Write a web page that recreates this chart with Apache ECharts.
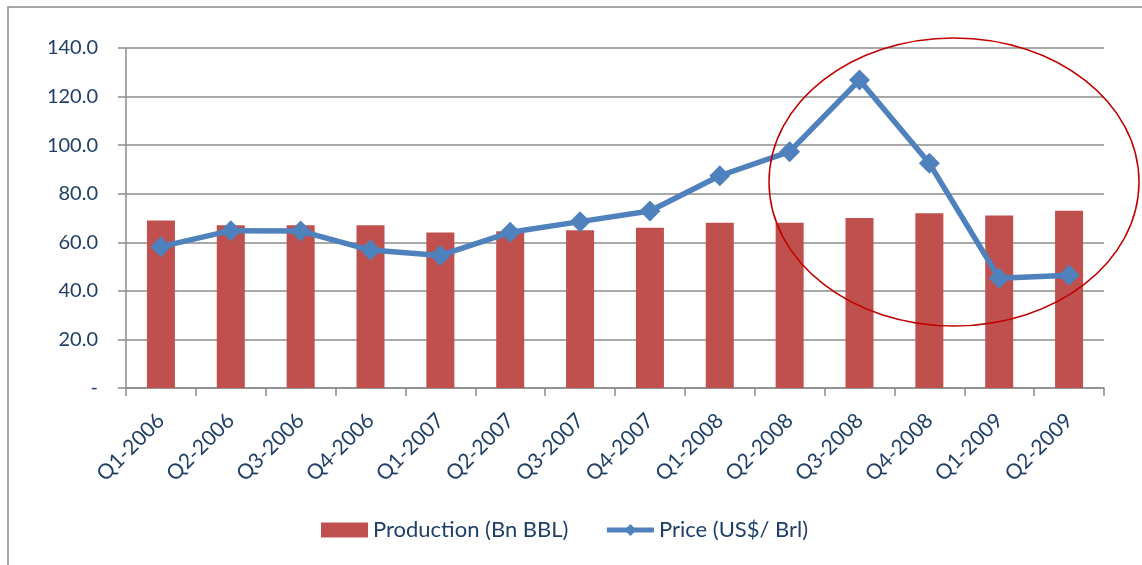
<!DOCTYPE html>
<html><head><meta charset="utf-8">
<script src="https://cdn.jsdelivr.net/npm/echarts@6/dist/echarts.min.js"></script>
<style>html,body{margin:0;padding:0;background:#fff}#c{width:1142px;height:565px}</style>
</head><body><div id="c"></div>
<script>
const categories = ['Q1-2006','Q2-2006','Q3-2006','Q4-2006','Q1-2007','Q2-2007','Q3-2007','Q4-2007','Q1-2008','Q2-2008','Q3-2008','Q4-2008','Q1-2009','Q2-2009'];
const production = [69, 67, 67, 67, 64, 64.5, 65, 66, 68, 68, 70, 72, 71, 73];
const price = [58.2, 64.8, 64.6, 56.8, 54.6, 64.1, 68.5, 72.9, 87.4, 97.3, 126.8, 92.5, 45.2, 46.4];
const yTicks = [0, 20, 40, 60, 80, 100, 120, 140];

const FONT = 'Lato';
const TXT = '#1F3F66';
const GRID = '#8C8C8C';
const chart = echarts.init(document.getElementById('c'), null, {renderer: 'canvas'});
chart.setOption({
  animation: false,
  backgroundColor: '#fff',
  textStyle: {fontFamily: FONT},
  grid: {left: 126, right: 38, top: 48, bottom: 177, containLabel: false},
  legend: {
    left: 316, top: 514, itemGap: 36, itemWidth: 47, itemHeight: 15,
    textStyle: {fontFamily: FONT, fontSize: 22, color: TXT},
    data: [
      {name: 'Production (Bn BBL)', icon: 'rect'},
      {name: 'Price (US$/ Brl)', lineStyle: {width: 5}}
    ]
  },
  xAxis: {
    type: 'category', data: categories, boundaryGap: true,
    axisLine: {lineStyle: {color: GRID, width: 1.5}},
    axisTick: {show: true, length: 8, alignWithLabel: false, lineStyle: {color: GRID, width: 1.5}},
    axisLabel: {rotate: 45, interval: 0, margin: 29, fontFamily: FONT, fontSize: 21, color: TXT}
  },
  yAxis: {
    type: 'value', min: yTicks[0], max: yTicks[yTicks.length - 1], interval: 20,
    axisLine: {show: true, lineStyle: {color: GRID, width: 1.5}},
    axisTick: {show: true, length: 8, lineStyle: {color: GRID, width: 1.5}},
    splitLine: {lineStyle: {color: GRID, width: 1.5}},
    axisLabel: {
      margin: 28, fontFamily: FONT, fontSize: 20, color: TXT,
      formatter: v => v === 0 ? '-' : v.toFixed(1)
    }
  },
  series: [
    {
      name: 'Production (Bn BBL)', type: 'bar', data: production, barWidth: 28,
      itemStyle: {color: '#C0504D'}
    },
    {
      name: 'Price (US$/ Brl)', type: 'line', data: price,
      lineStyle: {color: '#4F81BD', width: 5.5},
      itemStyle: {color: '#4F81BD'},
      symbol: 'diamond', symbolSize: [21, 21], showAllSymbol: true
    }
  ],
  graphic: [
    {type: 'rect', shape: {x: 8, y: 7, width: 1200, height: 700}, style: {fill: null, stroke: '#8A8A8A', lineWidth: 1.5}, silent: true, z: 100},
    {type: 'ellipse', shape: {cx: 954, cy: 182, rx: 185, ry: 144}, style: {fill: null, stroke: '#C00000', lineWidth: 1.5}, silent: true, z: 100}
  ]
});
</script></body></html>
